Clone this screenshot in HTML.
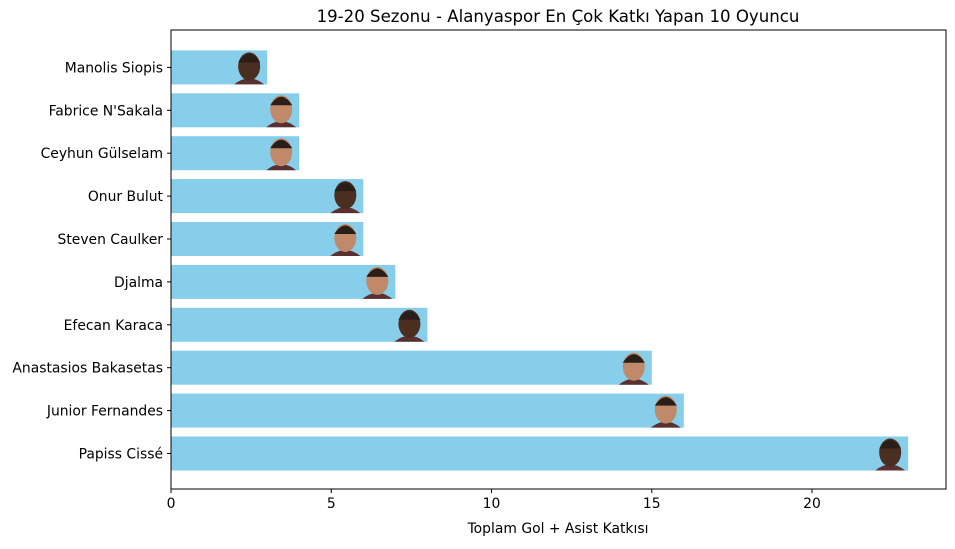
<!DOCTYPE html>
<html><head><meta charset="utf-8"><style>
body{margin:0;background:#fff;font-family:"DejaVu Sans","Liberation Sans",sans-serif;}
</style></head><body>
<svg id="chart" width="955" height="545" xmlns="http://www.w3.org/2000/svg" font-family="DejaVu Sans, Liberation Sans, sans-serif"></svg>
<script>
const categories=["Papiss Cissé","Junior Fernandes","Anastasios Bakasetas","Efecan Karaca","Djalma","Steven Caulker","Onur Bulut","Ceyhun Gülselam","Fabrice N'Sakala","Manolis Siopis"];
const values=[23,16,15,8,7,6,6,4,4,3];
const xTicks=[0,5,10,15,20];
const L=171,R=946,T=30,B=489,xMax=24.18;
const svg=document.getElementById('chart');
const NS='http://www.w3.org/2000/svg';
function x(v){return L+v/xMax*(R-L);}
function y(i){return 453.5-i*42.9;}
function mk(t,a,p){const e=document.createElementNS(NS,t);for(const k in a)e.setAttribute(k,a[k]);(p||svg).appendChild(e);return e;}
const t=mk('text',{x:558,y:22,'text-anchor':'middle','font-size':16.6});t.textContent='19-20 Sezonu - Alanyaspor En Çok Katkı Yapan 10 Oyuncu';


categories.forEach((c,i)=>{
  const b=mk('rect',{x:x(0),y:y(i)-17,width:x(values[i])-x(0),height:34,fill:'#87ceeb'});
  
  
  const cx=x(values[i])-18;
  const f=mk('g',{});
  
  
  mk('path',{d:`M${cx-15} ${y(i)+17} Q${cx} ${y(i)+5} ${cx+15} ${y(i)+17} Z`,fill:'#5a3030'},f);
  mk('ellipse',{cx:cx,cy:y(i)-1,rx:11,ry:14,fill:i%3==0?'#4a2e20':'#c08a6a'},f);
  mk('path',{d:`M${cx-11} ${y(i)-5} Q${cx} ${y(i)-22} ${cx+11} ${y(i)-5} Z`,fill:'#2a1e18'},f);
  const l=mk('text',{x:x(0)-8,y:y(i)+5,'text-anchor':'end','font-size':13.9});l.textContent=c;
  
  
  mk('line',{x1:x(0)-4,x2:x(0),y1:y(i),y2:y(i),stroke:'#000'});
});
xTicks.forEach(v=>{
  mk('line',{x1:x(v),x2:x(v),y1:B,y2:B+4,stroke:'#000'});
  const l=mk('text',{x:x(v),y:B+19,'text-anchor':'middle','font-size':13.9});l.textContent=v;
  
  
});
const fr=mk('rect',{x:L,y:T,width:R-L,height:B-T,fill:'none',stroke:'#000','stroke-width':1});


const xl=mk('text',{x:558,y:533,'text-anchor':'middle','font-size':13.9});xl.textContent='Toplam Gol + Asist Katkısı';


</script>
</body></html>
